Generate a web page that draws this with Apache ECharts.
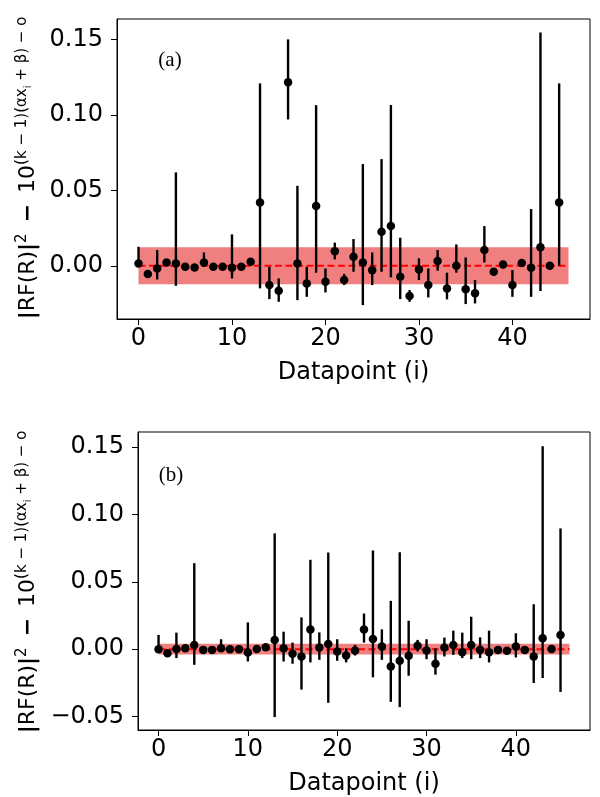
<!DOCTYPE html>
<html><head><meta charset="utf-8">
<script src="https://cdn.jsdelivr.net/npm/echarts@6/dist/echarts.min.js"></script>
<style>html,body{margin:0;padding:0;background:#fff}#c{width:600px;height:797px}</style>
</head><body><div id="c"></div>
<script>
// ---------- data ----------
const xTicks = [0, 10, 20, 30, 40];
const yTicksA = [0, 0.05, 0.10, 0.15];
const yTicksB = [-0.05, 0, 0.05, 0.10, 0.15];

const valA = [0.0015,-0.0055,-0.0018,0.0022,0.0015,-0.0007,-0.0011,0.0022,-0.0007,-0.0007,
  -0.0013,-0.0007,0.0027,0.042,-0.0128,-0.0166,0.1216,0.0015,-0.0117,0.0396,
  -0.0106,0.0097,-0.0095,0.006,0.0022,-0.0029,0.0225,0.0263,-0.0073,-0.0201,
  -0.0024,-0.0128,0.0031,-0.015,0.0,-0.0155,-0.0183,0.0104,-0.004,0.0009,
  -0.0128,0.0018,-0.0013,0.0122,0.0,0.042];
const loA = [-0.0005,-0.0075,-0.0091,0.0002,-0.0133,-0.0027,-0.0031,-0.0007,-0.0027,-0.0027,
  -0.0084,-0.0027,0.0007,-0.015,-0.0221,-0.0239,0.097,-0.0228,-0.0206,-0.0046,
  -0.0177,0.0042,-0.0128,-0.004,-0.0261,-0.0128,-0.004,-0.0077,-0.0221,-0.0239,
  -0.0095,-0.021,-0.0033,-0.0223,-0.0046,-0.0254,-0.025,0.0022,-0.006,-0.0011,
  -0.0206,-0.0002,-0.0206,-0.0168,-0.002,0.0];
const hiA = [0.0126,-0.0035,0.0104,0.0042,0.0619,0.0013,0.0009,0.0088,0.0013,0.0013,
  0.0208,0.0013,0.0047,0.1209,-0.0007,-0.0084,0.1501,0.053,-0.0007,0.1065,
  -0.0018,0.0153,-0.0055,0.0177,0.0674,0.0088,0.0707,0.1065,0.0186,-0.0161,
  0.0049,-0.0018,0.0104,-0.0046,0.0141,0.0055,-0.0095,0.0263,-0.002,0.0029,
  -0.0029,0.0038,0.0376,0.1547,0.002,0.1209];

const valB = [0.0,-0.003,0.0002,0.0007,0.0032,-0.0005,-0.0005,0.0007,0.0,0.0,
  -0.0025,0.0002,0.0015,0.0069,0.0007,-0.0034,-0.0054,0.0147,0.0012,0.0039,
  -0.0017,-0.0047,-0.001,0.0147,0.0076,0.002,-0.0128,-0.0086,-0.0049,0.0025,
  -0.001,-0.0108,0.0012,0.0032,-0.0022,0.0032,-0.0005,-0.0022,-0.0005,-0.0012,
  0.002,-0.0005,-0.0054,0.0081,0.0002,0.0106];
const loB = [-0.001,-0.005,-0.0066,-0.0013,-0.0116,-0.0025,-0.0025,-0.0013,-0.002,-0.002,
  -0.0091,-0.0018,-0.0005,-0.0504,-0.0091,-0.0108,-0.03,-0.0098,-0.0079,-0.0398,
  -0.0086,-0.0098,-0.0047,0.0049,-0.0209,-0.0079,-0.0391,-0.043,-0.0197,-0.0017,
  -0.0074,-0.0189,-0.0054,-0.0042,-0.0066,-0.0074,-0.0066,-0.0098,-0.0025,-0.0032,
  -0.0061,-0.0025,-0.0251,-0.0214,-0.0018,-0.0317];
const hiB = [0.0106,-0.001,0.0123,0.0027,0.0639,0.0015,0.0015,0.0074,0.002,0.002,
  0.0199,0.0022,0.0035,0.086,0.013,0.0049,0.0236,0.0664,0.0125,0.0718,
  0.0074,0.0007,0.0032,0.0265,0.0733,0.0147,0.0359,0.072,0.0211,0.0069,
  0.0074,0.0007,0.0086,0.0138,0.0123,0.0241,0.0088,0.0138,0.0015,0.0008,
  0.0118,0.0015,0.0334,0.1507,0.0022,0.0897];

const bandX = [0, 46];
const bandA = [-0.0122, 0.0122];
const bandB = [-0.004, 0.004];
const refLine = [0, 0];
const panelLabels = ['(a)', '(b)'];
const xName = 'Datapoint (i)';
const yNameRich = '{bar||}{b|RF(R)}{bar||}{s|2}{b|\u2002}{m|\u2212}{b|\u200210}{s|(k \u2212 1)(\u03b1x}{i|i}{s| + \u03b2) \u2212 o}';

// ---------- chart ----------
const FONT = 'DejaVu Sans';
const chart = echarts.init(document.getElementById('c'), null, {renderer: 'canvas'});

function fmt(v) {
  return v.toFixed(2).replace('-', '\u2212');
}

function xAxisCfg(gi) {
  return {
    type: 'value', gridIndex: gi, min: -2.3, max: 48.3,
    name: xName, nameLocation: 'middle', nameGap: 42,
    nameTextStyle: {fontFamily: FONT, fontSize: 24, color: '#000'},
    axisLine: {show: true, onZero: false, lineStyle: {color: '#000', width: 1}},
    axisTick: {show: true, inside: false, length: 6, lineStyle: {color: '#000', width: 1}, customValues: xTicks},
    axisLabel: {show: true, margin: 8, fontFamily: FONT, fontSize: 24, color: '#000', customValues: xTicks,
      formatter: v => String(Math.round(v))},
    splitLine: {show: false}
  };
}
function yAxisCfg(gi, mn, mx, ticks) {
  return {
    type: 'value', gridIndex: gi, min: mn, max: mx,
    axisLine: {show: true, onZero: false, lineStyle: {color: '#000', width: 1}},
    axisTick: {show: true, inside: false, length: 6, lineStyle: {color: '#000', width: 1}, customValues: ticks},
    axisLabel: {show: true, margin: 14, fontFamily: FONT, fontSize: 24, color: '#000', customValues: ticks, formatter: fmt},
    splitLine: {show: false}
  };
}

function bandItem(params, api) {
  const p1 = api.coord([api.value(0), api.value(3)]);
  const p2 = api.coord([api.value(1), api.value(2)]);
  return {type: 'rect', shape: {x: p1[0], y: p1[1], width: p2[0] - p1[0], height: p2[1] - p1[1]},
    style: {fill: '#f08080'}};
}
function errItem(params, api) {
  const x = api.value(0);
  const a = api.coord([x, api.value(1)]);
  const b = api.coord([x, api.value(2)]);
  return {type: 'line', shape: {x1: a[0], y1: a[1], x2: b[0], y2: b[1]},
    style: {stroke: '#000', lineWidth: 2.4}};
}

function panelSeries(gi, val, lo, hi, band) {
  return [
    {type: 'custom', xAxisIndex: gi, yAxisIndex: gi, z: 1, renderItem: bandItem, silent: true,
      encode: {x: [0, 1], y: [2, 3]},
      data: [[bandX[0], bandX[1], band[0], band[1]]]},
    {type: 'line', xAxisIndex: gi, yAxisIndex: gi, z: 2, symbol: 'none', silent: true,
      lineStyle: {color: '#ff0000', width: 2, type: [7, 3.5]},
      data: [[bandX[0], refLine[0]], [bandX[1], refLine[1]]]},
    {type: 'custom', xAxisIndex: gi, yAxisIndex: gi, z: 3, renderItem: errItem, silent: true,
      encode: {x: 0, y: [1, 2]},
      data: val.map((v, i) => [i, lo[i], hi[i]])},
    {type: 'scatter', xAxisIndex: gi, yAxisIndex: gi, z: 4, symbol: 'circle', symbolSize: 8.5, silent: true,
      itemStyle: {color: '#000', opacity: 1},
      data: val.map((v, i) => [i, v])}
  ];
}

const richStyles = {
  b: {fontFamily: FONT, fontSize: 22, lineHeight: 24, verticalAlign: 'bottom', color: '#000'},
  bar: {fontFamily: FONT, fontSize: 22, fontWeight: 'bold', lineHeight: 24, verticalAlign: 'bottom', color: '#000'},
  m: {fontFamily: FONT, fontSize: 22, fontWeight: 'bold', lineHeight: 24, verticalAlign: 'bottom', color: '#000'},
  s: {fontFamily: FONT, fontSize: 15, lineHeight: 15, verticalAlign: 'top', color: '#000'},
  i: {fontFamily: FONT, fontSize: 10, lineHeight: 10, verticalAlign: 'top', padding: [8, 0, 0, 0], color: '#000'}
};

const option = {
  animation: false,
  backgroundColor: '#fff',
  grid: [
    {left: 117, top: 19, width: 473, height: 300, show: true, borderColor: '#000', borderWidth: 1, backgroundColor: 'transparent'},
    {left: 138, top: 432, width: 452, height: 300, show: true, borderColor: '#000', borderWidth: 1, backgroundColor: 'transparent'}
  ],
  xAxis: [xAxisCfg(0), xAxisCfg(1)],
  yAxis: [yAxisCfg(0, -0.0353, 0.1636, yTicksA), yAxisCfg(1, -0.06, 0.1613, yTicksB)],
  series: [].concat(panelSeries(0, valA, loA, hiA, bandA), panelSeries(1, valB, loB, hiB, bandB)),
  graphic: [
    {type: 'text', x: 170, y: 60, style: {text: panelLabels[0], font: '21px "Liberation Serif"', fill: '#000', align: 'center', verticalAlign: 'middle'}},
    {type: 'text', x: 171, y: 475, style: {text: panelLabels[1], font: '21px "Liberation Serif"', fill: '#000', align: 'center', verticalAlign: 'middle'}},
    {type: 'text', x: 27, y: 168, rotation: Math.PI / 2,
      style: {text: yNameRich, rich: richStyles, align: 'center', verticalAlign: 'middle', fill: '#000'}},
    {type: 'text', x: 27, y: 582, rotation: Math.PI / 2,
      style: {text: yNameRich, rich: richStyles, align: 'center', verticalAlign: 'middle', fill: '#000'}}
  ]
};
chart.setOption(option);
</script>
</body></html>
